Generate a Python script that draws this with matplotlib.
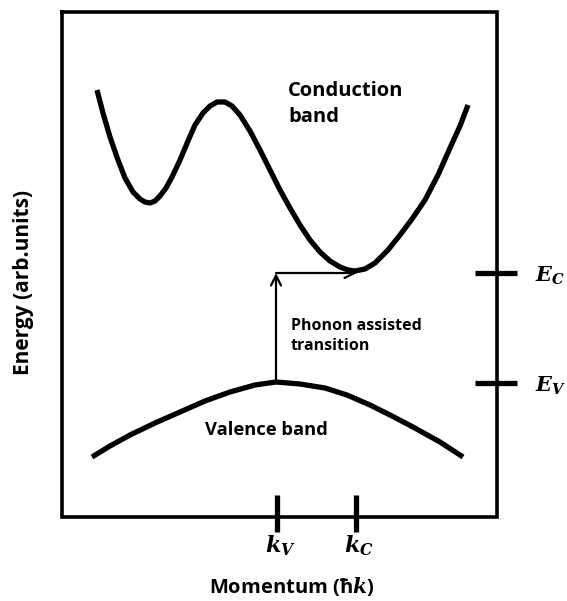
import numpy as np
import matplotlib.pyplot as plt

plt.rcParams['mathtext.fontset'] = 'dejavuserif'

# points (pixel coords, y downwards)
cond_x = [97, 103, 110, 118, 125, 133, 140, 145, 150, 155, 160, 166, 172, 180, 188, 195, 203, 210, 217, 225,
          232, 240, 250, 260, 270, 280, 290, 300, 310, 320, 330, 340, 348, 355, 365, 375, 388, 400,
          412, 425, 438, 450, 460, 468]
cond_y = [90, 113, 137, 160, 178, 192, 199, 202, 203, 201, 196, 188, 177, 160, 141, 125, 113, 106, 102, 102,
          106, 115, 131, 150, 170, 190, 208, 225, 240, 252, 261, 267, 270, 271, 269, 263, 250, 235,
          219, 200, 175, 148, 126, 105]
val_x = [92, 110, 130, 155, 180, 205, 230, 255, 276, 300, 325, 347, 370, 392, 413, 440, 463]
val_y = [457, 446, 435, 423, 412, 401, 392, 385, 382, 384, 388, 395, 405, 416, 427, 442, 457]

box = [62, 497, 12, 517]          # left, right, top, bottom
k_ticks = [277, 356]
k_labels = ['$\\mathbfit{k}_{\\mathbfit{V}}$', '$\\mathbfit{k}_{\\mathbfit{C}}$']
e_ticks = [273, 383]
e_labels = ['$\\mathbfit{E}_{\\mathbfit{C}}$', '$\\mathbfit{E}_{\\mathbfit{V}}$']

fig = plt.figure(figsize=(5.67, 6.01), dpi=100)
ax = fig.add_axes([0, 0, 1, 1])
ax.set_xlim(0, 567)
ax.set_ylim(601, 0)
ax.axis('off')

l, r, t, b = box
ax.plot([l, r, r, l, l], [t, t, b, b, t], color='black', lw=2.6, solid_joinstyle='miter')

ax.plot(cond_x, cond_y, color='black', lw=3.8, solid_capstyle='butt', solid_joinstyle='round')
ax.plot(val_x, val_y, color='black', lw=3.8, solid_capstyle='butt', solid_joinstyle='round')

# phonon assisted transition arrows
vx, vy = val_x[val_y.index(min(val_y))], min(val_y)
cx, cy = 357, 273
ax.annotate('', xy=(vx, cy), xytext=(vx, vy - 2),
            arrowprops=dict(arrowstyle='->', color='black', lw=1.6, mutation_scale=18,
                            shrinkA=0, shrinkB=0))
ax.annotate('', xy=(cx, cy), xytext=(vx, cy),
            arrowprops=dict(arrowstyle='->', color='black', lw=1.6, mutation_scale=18,
                            shrinkA=0, shrinkB=0))

for x, lab in zip(k_ticks, k_labels):
    ax.plot([x, x], [b - 22, b + 15], color='black', lw=3.8, solid_capstyle='butt')
    ax.text(x + 3, 546, lab, ha='center', va='center', fontsize=16)

for y, lab in zip(e_ticks, e_labels):
    ax.plot([r - 22, r + 20], [y, y], color='black', lw=3.8, solid_capstyle='butt')
    ax.text(535, y + 3, lab, ha='left', va='center', fontsize=15)

font = 'Open Sans'
ax.text(288, 104, 'Conduction\nband', ha='left', va='center', fontsize=14.5,
        fontweight='bold', family=font, linespacing=1.35)
ax.text(291, 336, 'Phonon assisted\ntransition', ha='left', va='center', fontsize=11.5,
        fontweight='bold', family=font, linespacing=1.35)
ax.text(266, 430, 'Valence band', ha='center', va='center', fontsize=13.2,
        fontweight='bold', family=font)
ax.text(24, 282, 'Energy (arb.units)', ha='center', va='center', rotation=90,
        fontsize=15, fontweight='bold', family=font)
ax.text(292, 586, 'Momentum (ħ$\\mathbfit{k}$)', ha='center', va='center',
        fontsize=14.5, fontweight='bold', family=font)

fig.savefig('out.png', dpi=100)
